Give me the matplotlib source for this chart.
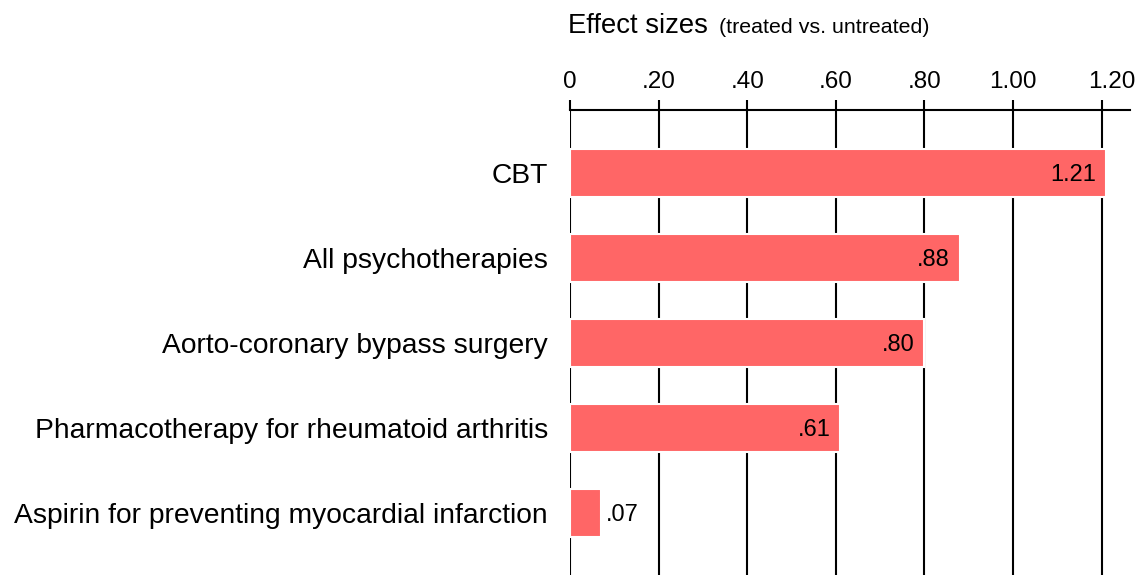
import matplotlib
matplotlib.use("Agg")
import matplotlib.pyplot as plt
from matplotlib.transforms import offset_copy, ScaledTranslation

categories = ["CBT", "All psychotherapies", "Aorto-coronary bypass surgery",
              "Pharmacotherapy for rheumatoid arthritis",
              "Aspirin for preventing myocardial infarction"]
values = [1.21, 0.88, 0.80, 0.61, 0.07]
value_labels = ["1.21", ".88", ".80", ".61", ".07"]
tick_values = [0, 0.2, 0.4, 0.6, 0.8, 1.0, 1.2]
tick_labels = ["0", ".20", ".40", ".60", ".80", "1.00", "1.20"]

plt.rcParams['font.family'] = ['Liberation Sans', 'DejaVu Sans']

fig = plt.figure(figsize=(11.46, 5.75), dpi=100)
ax = fig.add_axes([570/1146, 0, (1130-570)/1146, 465/575])

ypos = list(range(len(categories)))
ax.barh(ypos, values, height=0.57, color="#FF6666", edgecolor="white",
        linewidth=1.5, zorder=3)

ax.set_xlim(0, 1.264)
ax.set_ylim(4.73, -0.741)

ax.set_xticks(tick_values)
ax.set_xticklabels(tick_labels, fontsize=17.5)
ax.xaxis.tick_top()
ax.tick_params(axis='x', direction='out', length=7.5, width=1.5, pad=5, color='black')
ax.tick_params(axis='y', length=0)
ax.set_yticks(ypos)
ax.set_yticklabels(categories, fontsize=20.3)
ax.tick_params(axis='y', pad=16)

# last tick label sits slightly right of its tick in the reference
last = ax.get_xticklabels()[-1]
last.set_transform(last.get_transform() + ScaledTranslation(10/100, 0, fig.dpi_scale_trans))

for s in ['bottom', 'left', 'right']:
    ax.spines[s].set_visible(False)
ax.spines['top'].set_linewidth(1.5)

ax.grid(axis='x', color='black', linewidth=1.5, zorder=0)
ax.set_axisbelow(True)

for y, v, lab in zip(ypos, values, value_labels):
    if v > 0.3:
        tr = offset_copy(ax.transData, fig=fig, x=-10, y=0, units='dots')
        ax.text(v, y, lab, ha='right', va='center_baseline', fontsize=17, transform=tr, zorder=4)
    else:
        tr = offset_copy(ax.transData, fig=fig, x=5, y=0, units='dots')
        ax.text(v, y, lab, ha='left', va='center_baseline', fontsize=17, transform=tr, zorder=4)

fig.text(568/1146, 1 - 33/575, "Effect sizes", fontsize=19.8, ha='left', va='baseline')
fig.text(719/1146, 1 - 33/575, "(treated vs. untreated)", fontsize=15.4, ha='left', va='baseline')

fig.savefig("out.png", dpi=100)
